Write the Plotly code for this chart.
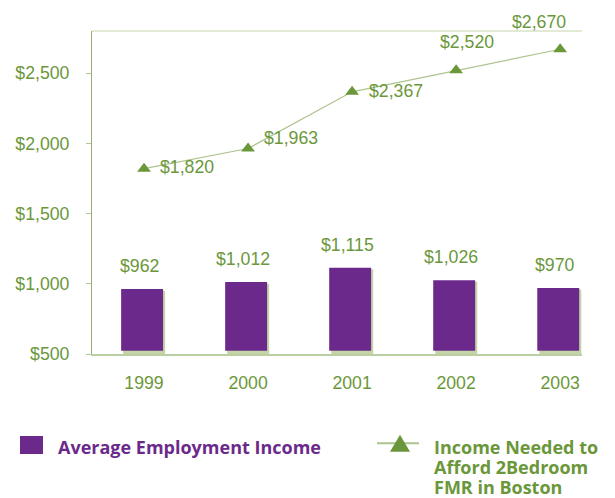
import plotly.graph_objects as go

# ---- data ----
years = ["1999", "2000", "2001", "2002", "2003"]
avg_income = [962, 1012, 1115, 1026, 970]
needed_income = [1820, 1963, 2367, 2520, 2670]
y_ticks = [500, 1000, 1500, 2000, 2500]
y_tick_labels = ["$500", "$1,000", "$1,500", "$2,000", "$2,500"]
legend_bar = "Average Employment Income"
legend_line = ["Income Needed to", "Afford 2Bedroom", "FMR in Boston"]

# ---- style ----
PURPLE = "#6b2a8b"
GREEN = "#6b973b"
LINE_GREEN = "#adc48d"
SHADOW = "#c3d4a8"
AXIS_L = "#93af70"
AXIS_B = "#bccfa3"
TICK_C = "#b3c897"
TOP_C = "#e2ead6"
FONT = "Liberation Sans, Arial, sans-serif"
LFONT = "Open Sans, Noto Sans, sans-serif"
FS = 17.7

W, H = 615, 498
PL, PT, PW, PH = 92, 31, 490, 323
Y_RANGE = [500, 2800]
X_RANGE = [-0.5, 4.21]
BAR_BASE = 523


def px(xp):
    return (xp - PL) / PW


def py(yp):
    return (PT + PH - yp) / PH


xpos = list(range(len(years)))          # category index positions
bounds = [i - 0.5 for i in xpos]        # category boundaries (tick marks)

fig = go.Figure()

# bar shadow
fig.add_trace(go.Bar(
    x=xpos, y=[v - Y_RANGE[0] - 11 for v in avg_income], base=Y_RANGE[0],
    width=0.403, offset=-0.20, marker=dict(color=SHADOW, line=dict(width=0)),
    hoverinfo="skip", showlegend=False))
# bars
fig.add_trace(go.Bar(
    x=xpos, y=[v - BAR_BASE for v in avg_income], base=BAR_BASE,
    width=0.403, offset=-0.22, marker=dict(color=PURPLE, line=dict(width=0)),
    name=legend_bar, showlegend=False))
# line
fig.add_trace(go.Scatter(
    x=xpos, y=needed_income, mode="lines+markers",
    line=dict(color=LINE_GREEN, width=1.2),
    marker=dict(symbol="triangle-up", size=12, color=GREEN),
    cliponaxis=False, name=" ".join(legend_line), showlegend=False))

ann = []
# bar value labels
for xi, v in zip(xpos, avg_income):
    ann.append(dict(x=xi, y=v, xref="x", yref="y", text=f"${v:,}", showarrow=False,
                    xshift=-5, yshift=23, yanchor="middle", xanchor="center",
                    font=dict(family=FONT, size=FS, color=GREEN)))
# line value labels (manual placement as in the original)
line_label_place = [("left", 14, 2), ("left", 14, 10.5), ("left", 15, 1),
                    ("center", 11, 28), ("center", -21, 27)]
for xi, v, (xa, xs, ys) in zip(xpos, needed_income, line_label_place):
    ann.append(dict(x=xi, y=v, xref="x", yref="y", text=f"${v:,}", showarrow=False,
                    xshift=xs, yshift=ys, yanchor="middle", xanchor=xa,
                    font=dict(family=FONT, size=FS, color=GREEN)))

# legend texts
ann.append(dict(x=px(56), y=py(446.5), xref="paper", yref="paper", text=f"<b>{legend_bar}</b>",
                showarrow=False, xanchor="left", yanchor="middle",
                font=dict(family=LFONT, size=18, color=PURPLE)))
for i, t in enumerate(legend_line):
    ann.append(dict(x=px(432), y=py(446.5 + i * 20.5), xref="paper", yref="paper",
                    text=f"<b>{t}</b>", showarrow=False, xanchor="left", yanchor="middle",
                    font=dict(family=LFONT, size=18, color=GREEN)))

shapes = [
    # top border
    dict(type="line", xref="paper", yref="paper", x0=0, x1=1, y0=1, y1=1,
         line=dict(color=TOP_C, width=2), layer="below"),
    # legend: purple square
    dict(type="rect", xref="paper", yref="paper", x0=px(20), x1=px(43), y0=py(454), y1=py(436),
         fillcolor=PURPLE, line=dict(width=0)),
    # legend: line + triangle
    dict(type="line", xref="paper", yref="paper", x0=px(377), x1=px(419), y0=py(443.3), y1=py(443.3),
         line=dict(color=LINE_GREEN, width=2)),
    dict(type="path", xref="paper", yref="paper",
         path=f"M {px(390)},{py(451.7)} L {px(410)},{py(451.7)} L {px(400)},{py(434.7)} Z",
         fillcolor=GREEN, line=dict(width=0)),
]

tick_common = dict(ticklen=5, tickcolor=TICK_C, tickwidth=1, showticklabels=False,
                   showgrid=False, zeroline=False, showline=False)

fig.update_layout(
    width=W, height=H, autosize=False,
    margin=dict(l=PL, r=W - PL - PW, t=PT, b=H - PT - PH, pad=0),
    paper_bgcolor="white", plot_bgcolor="white",
    barmode="overlay", showlegend=False,
    annotations=ann, shapes=shapes,
    xaxis=dict(type="linear", range=X_RANGE, showgrid=False, zeroline=False,
               showline=True, linecolor=AXIS_B, linewidth=2,
               tickmode="array", tickvals=xpos, ticktext=years, ticks="",
               ticklabelstandoff=12,
               tickfont=dict(family=FONT, size=FS, color=GREEN)),
    xaxis2=dict(overlaying="x", anchor="y", side="bottom", type="linear", range=X_RANGE,
                tickmode="array", tickvals=bounds, ticks="outside", **tick_common),
    xaxis3=dict(overlaying="x", anchor="y", side="bottom", type="linear", range=X_RANGE,
                tickmode="array", tickvals=bounds, ticks="inside", **tick_common),
    yaxis=dict(range=Y_RANGE, tickmode="array", tickvals=y_ticks, ticktext=y_tick_labels,
               showgrid=False, zeroline=False, showline=True, linecolor=AXIS_L, linewidth=1,
               ticks="outside", ticklen=5, tickcolor=TICK_C, tickwidth=1,
               ticklabelstandoff=13,
               tickfont=dict(family=FONT, size=FS, color=GREEN)),
    yaxis2=dict(overlaying="y", anchor="x", side="left", range=Y_RANGE, tickmode="array",
                tickvals=y_ticks, ticks="inside", **tick_common),
)

fig.write_html("out.html", config={"displayModeBar": False},
               post_script="document.body.style.margin='0px';")
